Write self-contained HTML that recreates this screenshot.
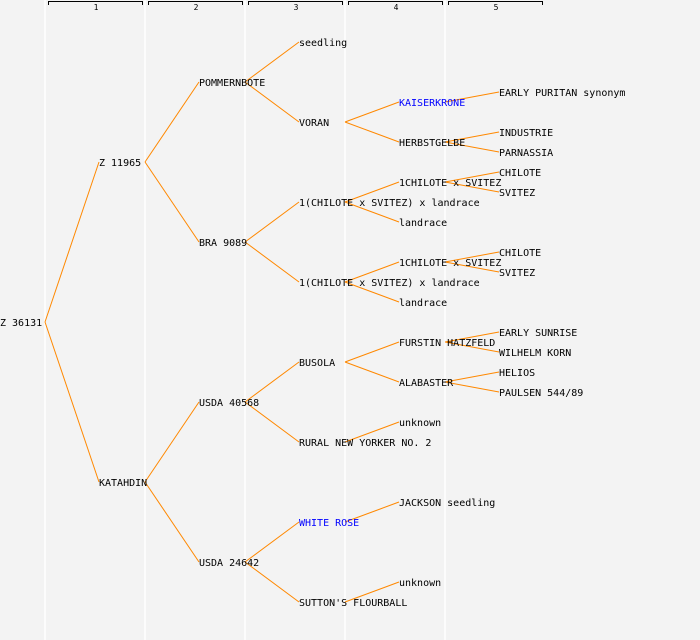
<!DOCTYPE html>
<html><head><meta charset="utf-8"><style>
html,body{margin:0;padding:0;background:#f3f3f3;}
svg{display:block;}
text{font-family:"DejaVu Sans Mono","Liberation Mono",monospace;font-size:10px;fill:#000;}
</style></head><body>
<svg width="700" height="640" xmlns="http://www.w3.org/2000/svg">
<rect width="700" height="640" fill="#f3f3f3"/>
<g stroke="#fff" stroke-width="1.5">
<line x1="45" y1="0" x2="45" y2="640"/><line x1="145" y1="0" x2="145" y2="640"/><line x1="245" y1="0" x2="245" y2="640"/><line x1="345" y1="0" x2="345" y2="640"/><line x1="445" y1="0" x2="445" y2="640"/>
</g>
<g stroke="#000" stroke-width="1" fill="none">
<path d="M48.5 5V1.5H142.5V5"/><path d="M148.5 5V1.5H242.5V5"/><path d="M248.5 5V1.5H342.5V5"/><path d="M348.5 5V1.5H442.5V5"/><path d="M448.5 5V1.5H542.5V5"/>
</g>
<g style="font-size:8px" text-anchor="middle">
<text x="96" y="10" style="font-size:8px">1</text><text x="196" y="10" style="font-size:8px">2</text><text x="296" y="10" style="font-size:8px">3</text><text x="396" y="10" style="font-size:8px">4</text><text x="496" y="10" style="font-size:8px">5</text>
</g>
<g stroke="#ff8800" stroke-width="1" fill="none">
<line x1="45" y1="322" x2="99" y2="162"/><line x1="45" y1="322" x2="99" y2="482"/>
<line x1="145" y1="162" x2="199" y2="82"/><line x1="145" y1="162" x2="199" y2="242"/>
<line x1="145" y1="482" x2="199" y2="402"/><line x1="145" y1="482" x2="199" y2="562"/>
<line x1="245" y1="82" x2="299" y2="42"/><line x1="245" y1="82" x2="299" y2="122"/>
<line x1="245" y1="242" x2="299" y2="202"/><line x1="245" y1="242" x2="299" y2="282"/>
<line x1="245" y1="402" x2="299" y2="362"/><line x1="245" y1="402" x2="299" y2="442"/>
<line x1="245" y1="562" x2="299" y2="522"/><line x1="245" y1="562" x2="299" y2="602"/>
<line x1="345" y1="122" x2="399" y2="102"/><line x1="345" y1="122" x2="399" y2="142"/>
<line x1="345" y1="202" x2="399" y2="182"/><line x1="345" y1="202" x2="399" y2="222"/>
<line x1="345" y1="282" x2="399" y2="262"/><line x1="345" y1="282" x2="399" y2="302"/>
<line x1="345" y1="362" x2="399" y2="342"/><line x1="345" y1="362" x2="399" y2="382"/>
<line x1="345" y1="442" x2="399" y2="422"/>
<line x1="345" y1="522" x2="399" y2="502"/>
<line x1="345" y1="602" x2="399" y2="582"/>
<line x1="445" y1="102" x2="499" y2="92"/>
<line x1="445" y1="142" x2="499" y2="132"/><line x1="445" y1="142" x2="499" y2="152"/>
<line x1="445" y1="182" x2="499" y2="172"/><line x1="445" y1="182" x2="499" y2="192"/>
<line x1="445" y1="262" x2="499" y2="252"/><line x1="445" y1="262" x2="499" y2="272"/>
<line x1="445" y1="342" x2="499" y2="332"/><line x1="445" y1="342" x2="499" y2="352"/>
<line x1="445" y1="382" x2="499" y2="372"/><line x1="445" y1="382" x2="499" y2="392"/>
</g>
<g>
<text x="0" y="326">Z 36131</text>
<text x="99" y="166">Z 11965</text><text x="99" y="486">KATAHDIN</text>
<text x="199" y="86">POMMERNBOTE</text><text x="199" y="246">BRA 9089</text><text x="199" y="406">USDA 40568</text><text x="199" y="566">USDA 24642</text>
<text x="299" y="46">seedling</text><text x="299" y="126">VORAN</text>
<text x="299" y="206">1(CHILOTE x SVITEZ) x landrace</text><text x="299" y="286">1(CHILOTE x SVITEZ) x landrace</text>
<text x="299" y="366">BUSOLA</text><text x="299" y="446">RURAL NEW YORKER NO. 2</text>
<text x="299" y="526" style="fill:#0000ff">WHITE ROSE</text><text x="299" y="606">SUTTON'S FLOURBALL</text>
<text x="399" y="106" style="fill:#0000ff">KAISERKRONE</text><text x="399" y="146">HERBSTGELBE</text>
<text x="399" y="186">1CHILOTE x SVITEZ</text><text x="399" y="226">landrace</text>
<text x="399" y="266">1CHILOTE x SVITEZ</text><text x="399" y="306">landrace</text>
<text x="399" y="346">FURSTIN HATZFELD</text><text x="399" y="386">ALABASTER</text>
<text x="399" y="426">unknown</text><text x="399" y="506">JACKSON seedling</text><text x="399" y="586">unknown</text>
<text x="499" y="96">EARLY PURITAN synonym</text>
<text x="499" y="136">INDUSTRIE</text><text x="499" y="156">PARNASSIA</text>
<text x="499" y="176">CHILOTE</text><text x="499" y="196">SVITEZ</text>
<text x="499" y="256">CHILOTE</text><text x="499" y="276">SVITEZ</text>
<text x="499" y="336">EARLY SUNRISE</text><text x="499" y="356">WILHELM KORN</text>
<text x="499" y="376">HELIOS</text><text x="499" y="396">PAULSEN 544/89</text>
</g>
</svg>
</body></html>
